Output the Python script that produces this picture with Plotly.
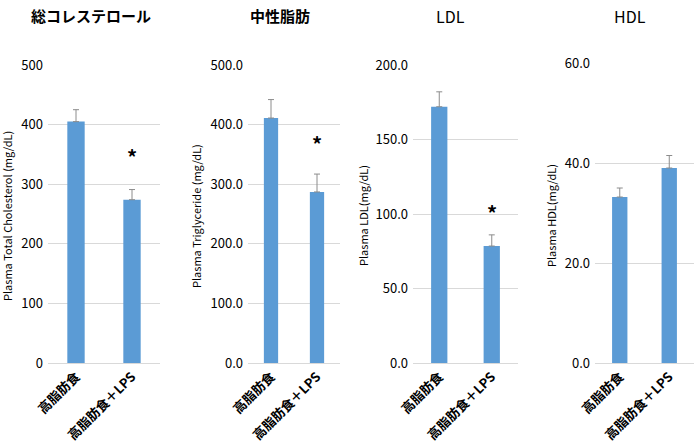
import plotly.graph_objects as go

categories = ["高脂肪食", "高脂肪食＋LPS"]
titles = ["総コレステロール", "中性脂肪", "LDL", "HDL"]
title_bold = [True, True, False, False]
title_size = [15, 15, 16, 16]
y_titles = ["Plasma Total Cholesterol (mg/dL)", "Plasma Triglyceride (mg/dL)",
            "Plasma LDL(mg/dL)", "Plasma HDL(mg/dL)"]
tc_values = [405, 274]
tc_errors = [20, 17]
tg_values = [411, 287]
tg_errors = [31, 30]
ldl_values = [172, 78.5]
ldl_errors = [10, 7.5]
hdl_values = [33.2, 39.0]
hdl_errors = [1.8, 2.5]
values = [tc_values, tg_values, ldl_values, hdl_values]
errors = [tc_errors, tg_errors, ldl_errors, hdl_errors]
y_max = [500, 500, 200, 60]
y_dtick = [100, 100, 50, 20]
y_format = ["d", ".1f", ".1f", ".1f"]
asterisk_y = [347, 369, 101, None]

W, H = 700, 444
# pixel layout of each panel's plot area
x_px = [(48, 160), (248, 340), (413, 518), (595, 694)]
y_px = [(65, 363), (65, 363), (65, 363), (63, 363)]
title_x = [91, 280, 451, 630]
ytitle_x = [7, 196, 363, 551]


def px(v):
    return v / W


def py(v):
    return 1 - v / H


FONT = "Noto Sans CJK JP"
BLUE = "#5B9BD5"

fig = go.Figure()
for i in range(4):
    n = "" if i == 0 else str(i + 1)
    fig.add_trace(go.Bar(
        x=categories, y=values[i],
        marker=dict(color=BLUE, line=dict(width=0)),
        width=0.31,
        error_y=dict(type="data", array=errors[i], arrayminus=[0, 0], symmetric=False,
                     color="#8C8C8C", thickness=1, width=3),
        xaxis="x" + n, yaxis="y" + n, showlegend=False,
    ))
    x0, x1 = x_px[i]
    yt, yb = y_px[i]
    fig.update_layout(**{
        "xaxis" + n: dict(domain=[px(x0), px(x1)], anchor="y" + n, automargin=False,
                          tickangle=-45, showline=True, linecolor="#D9D9D9", linewidth=1,
                          ticks="", tickfont=dict(size=13, color="#000000", family=FONT, weight="bold"),
                          showgrid=False),
        "yaxis" + n: dict(domain=[py(yb), py(yt)], anchor="x" + n, automargin=False,
                          range=[0, y_max[i]], dtick=y_dtick[i], tickformat=y_format[i],
                          showgrid=True, gridcolor="#D9D9D9", gridwidth=1,
                          zeroline=False, showline=False, ticks="", ticklabelstandoff=4,
                          tickfont=dict(size=13, color="#000000", family=FONT)),
    })
    ttl = f"<b>{titles[i]}</b>" if title_bold[i] else titles[i]
    fig.add_annotation(text=ttl, x=px(title_x[i]), y=py(16), xref="paper", yref="paper",
                       showarrow=False, xanchor="center", yanchor="middle", borderpad=0,
                       font=dict(size=title_size[i], color="#000000", family=FONT))
    fig.add_annotation(text=y_titles[i], x=px(ytitle_x[i]), y=py(216),
                       xref="paper", yref="paper", textangle=-90, showarrow=False,
                       xanchor="center", yanchor="middle", borderpad=0,
                       font=dict(size=11, color="#000000", family=FONT))
    if asterisk_y[i] is not None:
        fig.add_annotation(text="<b>*</b>", x=categories[1], y=asterisk_y[i],
                           xref="x" + n, yref="y" + n, showarrow=False,
                           xanchor="center", yanchor="middle",
                           font=dict(size=20, color="#000000", family=FONT))

fig.update_layout(width=W, height=H, margin=dict(l=0, r=0, t=0, b=0),
                  paper_bgcolor="white", plot_bgcolor="white",
                  font=dict(family=FONT), bargap=0.69)
fig.write_html("out.html", config={"displayModeBar": False},
               post_script="document.body.style.margin='0';document.body.style.overflow='hidden';")
